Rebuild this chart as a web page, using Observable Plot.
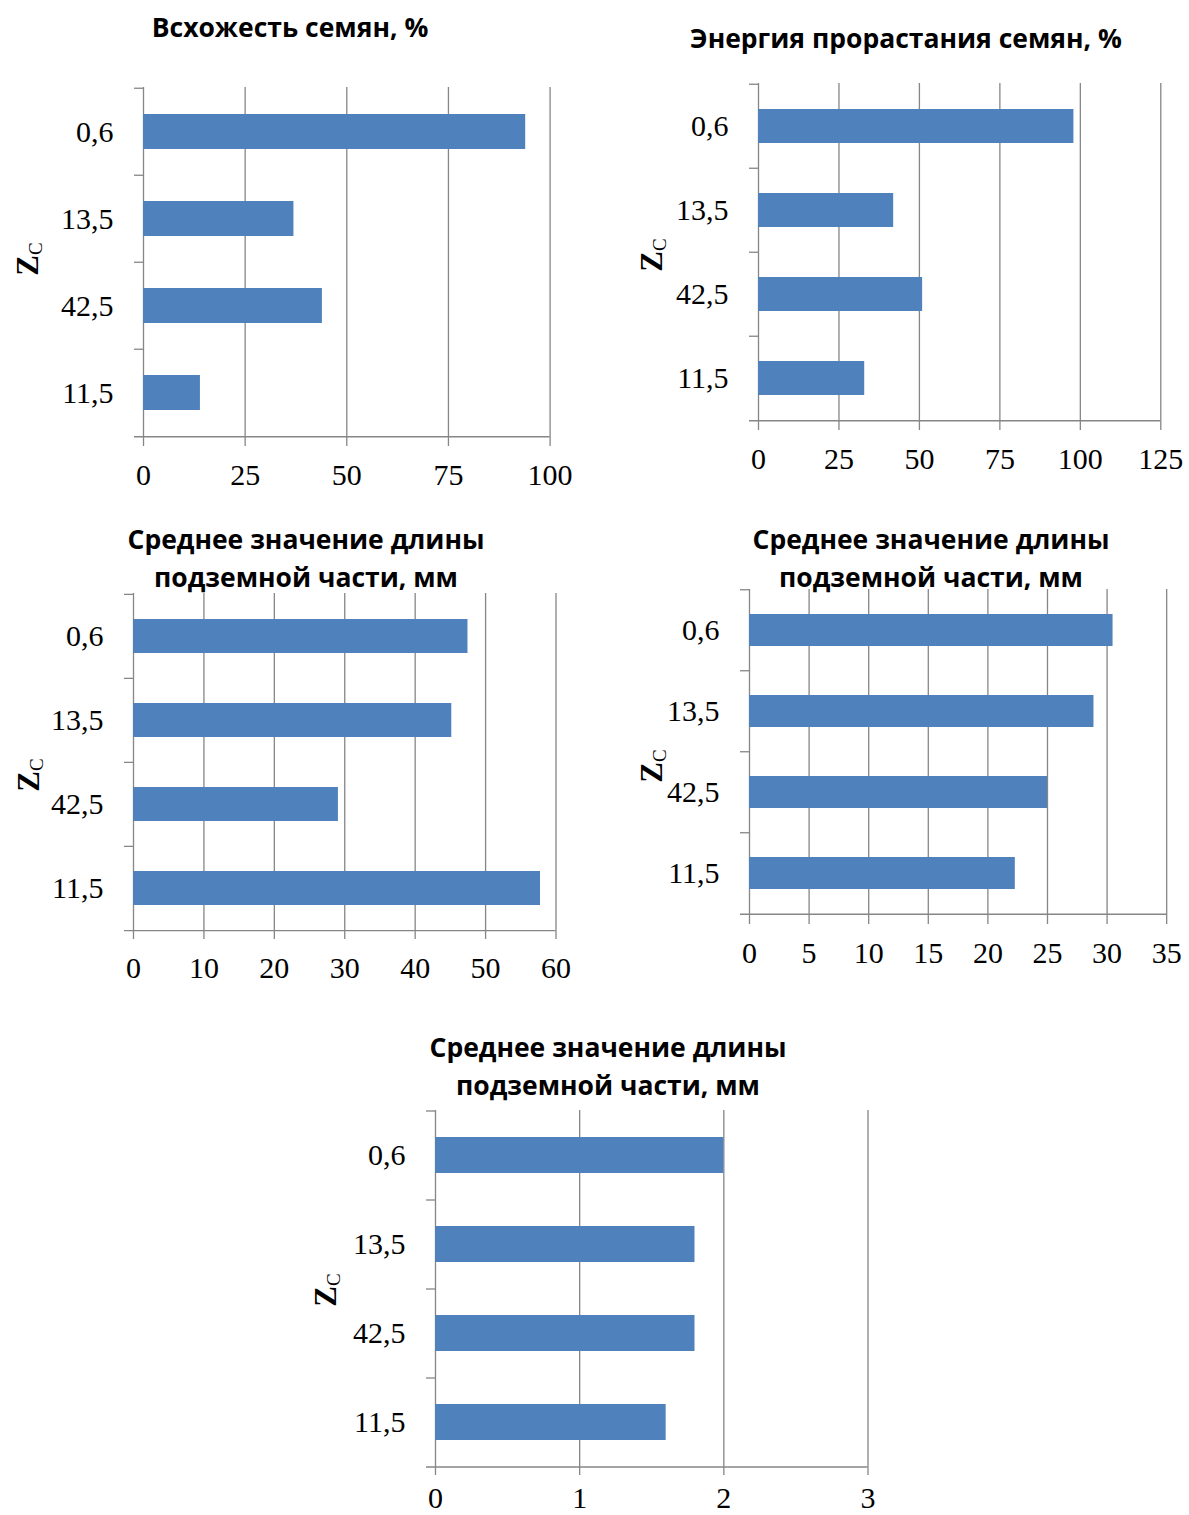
<!DOCTYPE html>
<html>
<head>
<meta charset="utf-8">
<script src="https://cdn.jsdelivr.net/npm/d3@7"></script>
<script src="https://cdn.jsdelivr.net/npm/@observablehq/plot@0.6"></script>
<style>
  html, body { margin: 0; padding: 0; background: #fff; }
  #page { position: relative; width: 1189px; height: 1515px; overflow: hidden; background: #fff; }
  .chart { position: absolute; }
  .chart svg { max-width: none !important; }
  .title { position: absolute; transform: translateX(-50%); white-space: nowrap; text-align: center;
           font-family: "Open Sans", sans-serif; font-weight: bold; font-size: 26.5px; line-height: 38px; color: #000; }
  .zlab { position: absolute; transform: translate(-50%, -50%) rotate(-90deg); white-space: nowrap;
          font-family: "Liberation Serif", serif; color: #000; line-height: 1; }
  .zlab b { font-size: 31px; }
  .zlab sub { font-size: 19px; vertical-align: -4px; }
</style>
</head>
<body>
<div id="page"></div>
<script>
// ---- data ----
const categories = ["0,6", "13,5", "42,5", "11,5"];
const germination = [94, 37, 44, 14];          // Всхожесть семян, %
const germEnergy = [98, 42, 51, 33];           // Энергия прорастания семян, %
const lengthA = [47.5, 45.2, 29.1, 57.8];      // Среднее значение длины подземной части, мм (1)
const lengthB = [30.5, 28.9, 25.0, 22.3];      // (2)
const lengthC = [2.0, 1.8, 1.8, 1.6];          // (3)
const ticksA = [0, 25, 50, 75, 100];
const ticksB = [0, 25, 50, 75, 100, 125];
const ticksC = [0, 10, 20, 30, 40, 50, 60];
const ticksD = [0, 5, 10, 15, 20, 25, 30, 35];
const ticksE = [0, 1, 2, 3];
const title1 = ["Всхожесть семян, %"];
const title2 = ["Энергия прорастания семян, %"];
const titleLen = ["Среднее значение длины", "подземной части, мм"];

// ---- layout ----
const panels = [
  {values: germination, ticks: ticksA, title: title1, x0: 142.7, x1: 549.3, top: 87, bottom: 437, tx: 290, tb: 37, zx: 28, zy: 259, pad: 26},
  {values: germEnergy, ticks: ticksB, title: title2, x0: 757.7, x1: 1160, top: 83, bottom: 421, tx: 906, tb: 48, zx: 652, zy: 255, pad: 26},
  {values: lengthA, ticks: ticksC, title: titleLen, x0: 132.5, x1: 555, top: 593, bottom: 930, tx: 306, tb: 549, zx: 29, zy: 775, pad: 26},
  {values: lengthB, ticks: ticksD, title: titleLen, x0: 748.5, x1: 1165.7, top: 589, bottom: 915, tx: 931, tb: 549, zx: 652, zy: 766, pad: 26},
  {values: lengthC, ticks: ticksE, title: titleLen, x0: 435, x1: 867.5, top: 1110, bottom: 1466, tx: 608, tb: 1057, zx: 326, zy: 1290, pad: 20}
];

const page = document.getElementById("page");
const grid = "#868686";
const barColor = "#4F81BD";

function panel(p) {
  const mL = 130, mR = 22, mT = 12, mB = 70;
  const w = p.x1 - p.x0 + mL + mR;
  const h = p.bottom - p.top + mT + mB;
  const step = (p.bottom - p.top) / categories.length;
  const data = categories.map((c, i) => ({cat: c, v: p.values[i]}));
  const xmax = p.ticks[p.ticks.length - 1];
  const last = categories[categories.length - 1];
  const svg = Plot.plot({
    width: w, height: h,
    marginLeft: mL, marginRight: mR, marginTop: mT, marginBottom: mB,
    style: {fontFamily: "'Liberation Serif', serif", fontSize: "30px", color: "#000", background: "transparent", overflow: "visible"},
    x: {domain: [0, xmax], axis: null},
    y: {domain: categories, paddingInner: 0.6, paddingOuter: 0.3, axis: null},
    marks: [
      Plot.ruleX(p.ticks, {stroke: grid, strokeWidth: 1.3, insetBottom: -9}),
      Plot.ruleY(categories, {y: d => d, dy: -step / 2, x1: 0, x2: 0, insetLeft: -9, stroke: grid, strokeWidth: 1.3}),
      Plot.ruleY([last], {y: d => d, dy: step / 2, x1: 0, x2: xmax, insetLeft: -9, stroke: grid, strokeWidth: 1.3}),
      Plot.barX(data, {x: "v", y: "cat", fill: barColor}),
      Plot.axisX({ticks: p.ticks, tickSize: 0, tickPadding: p.pad, tickFormat: d => String(d), fontSize: 30, fill: "#000", label: null}),
      Plot.axisY({tickSize: 0, tickPadding: 30, fontSize: 30, fill: "#000", label: null})
    ]
  });
  svg.style.maxWidth = "none";
  const div = document.createElement("div");
  div.className = "chart";
  div.style.left = (p.x0 - mL) + "px";
  div.style.top = (p.top - mT) + "px";
  div.style.width = w + "px";
  div.style.height = h + "px";
  div.appendChild(svg);
  page.appendChild(div);

  const t = document.createElement("div");
  t.className = "title";
  t.style.left = p.tx + "px";
  t.style.top = (p.tb - 29) + "px";
  t.innerHTML = p.title.join("<br>");
  page.appendChild(t);

  const z = document.createElement("div");
  z.className = "zlab";
  z.style.left = p.zx + "px";
  z.style.top = p.zy + "px";
  z.innerHTML = "<b>Z</b><sub>C</sub>";
  page.appendChild(z);
}
panels.forEach(panel);
</script>
</body>
</html>
